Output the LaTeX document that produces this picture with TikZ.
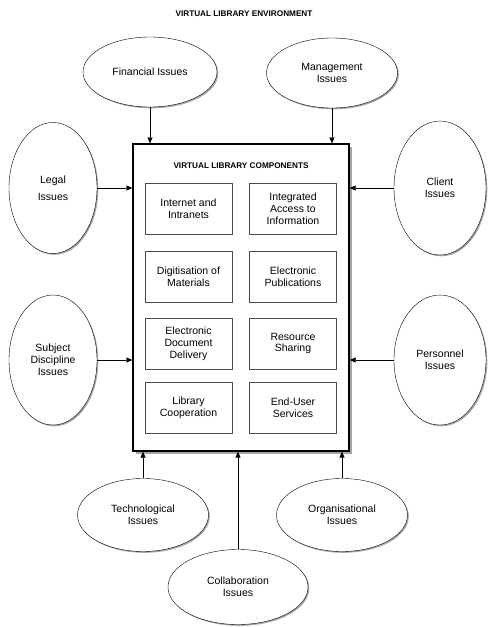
\documentclass[tikz,border=0pt]{standalone}
\usepackage{fontspec}
\setmainfont{Liberation Sans}
\usetikzlibrary{shapes.geometric,arrows.meta,shadows}

\tikzstyle{issue} = [ellipse, draw, thin, fill=white, align=center,
  font=\fontsize{10.5}{12}\selectfont,
  drop shadow={shadow xshift=1.3pt, shadow yshift=-1.3pt, fill=gray!70, opacity=1}]
\tikzstyle{comp} = [draw=black!70, thin, align=center, minimum width=87pt,
  minimum height=51pt, inner sep=0pt, font=\fontsize{10.5}{11.8}\selectfont]
\tikzstyle{arr} = [-{Triangle[length=6pt,width=5pt]}, thin]

\begin{document}
\begin{tikzpicture}[x=1pt, y=-1pt]
    \useasboundingbox (0,0) rectangle (500,627);
    \node[font=\fontsize{8.2}{9}\selectfont\bfseries] (title) at (244,14)
      {VIRTUAL LIBRARY ENVIRONMENT};

    % main box
    \node[draw, line width=1.4pt, fill=white, minimum width=216pt,
      minimum height=307pt, inner sep=0pt,
      drop shadow={shadow xshift=3pt, shadow yshift=-3pt, fill=gray!70, opacity=1}]
      (box) at (241,297.5) {};
    \node[font=\fontsize{8.2}{9}\selectfont\bfseries] (boxtitle) at (241,166)
      {VIRTUAL LIBRARY COMPONENTS};

    % components
    \node[comp] (inet) at (188.5,209) {Internet and\\Intranets};
    \node[comp] (access) at (293,209) {Integrated\\Access to\\Information};
    \node[comp] (digit) at (188.5,276.5) {Digitisation of\\Materials};
    \node[comp] (epub) at (293,276.5) {Electronic\\Publications};
    \node[comp] (edd) at (188.5,343.5) {Electronic\\Document\\Delivery};
    \node[comp] (share) at (293,343.5) {Resource\\Sharing};
    \node[comp] (coop) at (188.5,408) {Library\\Cooperation};
    \node[comp] (enduser) at (293,408) {End-User\\Services};

    % issues
    \node[issue, minimum width=134pt, minimum height=70pt] (fin) at (150,72)
      {Financial Issues};
    \node[issue, minimum width=131pt, minimum height=70pt] (mgmt) at (332,73)
      {Management\\Issues};
    \node[issue, minimum width=88pt, minimum height=131pt] (legal) at (53,188)
      {Legal\\[5pt]Issues};
    \node[issue, minimum width=92pt, minimum height=134pt] (client) at (440,188)
      {Client\\Issues};
    \node[issue, minimum width=88pt, minimum height=130pt] (subj) at (53,360)
      {Subject\\Discipline\\Issues};
    \node[issue, minimum width=92pt, minimum height=130pt] (pers) at (440,360)
      {Personnel\\Issues};
    \node[issue, minimum width=131pt, minimum height=73pt] (tech) at (143,515)
      {Technological\\Issues};
    \node[issue, minimum width=131pt, minimum height=73pt] (org) at (342,515)
      {Organisational\\Issues};
    \node[issue, minimum width=140pt, minimum height=75pt] (collab) at (238,587)
      {Collaboration\\Issues};

    % connectors
    \draw[arr] (fin.south) -- (fin.south |- box.north);
    \draw[arr] (mgmt.south) -- (mgmt.south |- box.north);
    \draw[arr] (legal.east) -- (legal.east -| box.west);
    \draw[arr] (subj.east) -- (subj.east -| box.west);
    \draw[arr] (client.west) -- (client.west -| box.east);
    \draw[arr] (pers.west) -- (pers.west -| box.east);
    \draw[arr] (tech.north) -- (tech.north |- box.south);
    \draw[arr] (org.north) -- (org.north |- box.south);
    \draw[arr] (collab.north) -- (collab.north |- box.south);
\end{tikzpicture}
\end{document}
